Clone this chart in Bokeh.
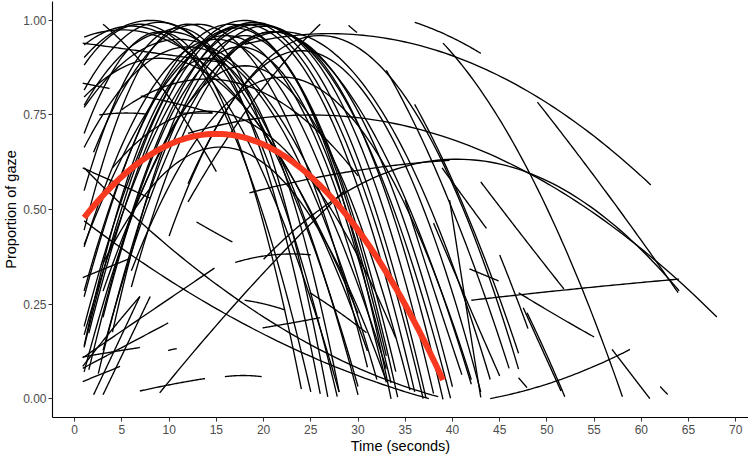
import numpy as np
from bokeh.plotting import figure
from bokeh.models import FixedTicker, PrintfTickFormatter, Range1d
from bokeh.embed import file_html
from bokeh.resources import INLINE

# ---- data: individual quadratic trajectories, peak form (x_peak, y_peak, curvature, x_start, x_end)
arc_xp = [18, 19, 18, 17, 20, 19.5, 21, 18, 22, 17.5, 16, 16.5, 14, 15, 18, 19, 12, 11,
          8, 9, 6, 10, 11, 5, 7, 12, 9, 13, 9,
          15.4, 14, 21, 24, 26, 22, 14,
          27, 25, 40.5]
arc_yp = [1.00, 0.995, 0.99, 0.98, 0.985, 0.99, 0.97, 0.96, 0.97, 0.93, 0.96, 0.99, 0.90, 0.95, 0.88, 0.99, 0.99, 0.98,
          1.00, 0.995, 0.985, 0.97, 0.95, 0.975, 0.99, 0.93, 0.90, 0.99, 0.97,
          0.665, 0.76, 0.97, 0.92, 0.96, 0.85, 0.845,
          0.965, 0.75, 0.633]
arc_k = [0.0028, 0.0030, 0.0030, 0.0033, 0.0030, 0.0024, 0.0026, 0.0040, 0.0019, 0.0034, 0.0030, 0.0030, 0.0045, 0.0028, 0.0028, 0.0018, 0.0045, 0.0043,
         0.0020, 0.0028, 0.0020, 0.0024, 0.0018, 0.0012, 0.0030, 0.0022, 0.0016, 0.0028, 0.0042,
         0.0020, 0.0015, 0.0030, 0.0025, 0.0020, 0.0020, 0.0010,
         0.000346, 0.000289, 0.00063]
arc_x0 = [1, 1.5, 1.5, 1, 2.5, 1, 3, 4, 3, 3, 1, 1, 1, 1, 1, 1, 1, 1,
          1, 1, 1, 1, 1, 1, 1, 1, 1, 2, 1,
          3, 4, 6, 10, 12, 6, 5,
          18, 12, 20]
arc_x1 = [36.9, 37.2, 36, 34.2, 38, 39.8, 40, 33.5, 44, 33, 33.5, 34, 28, 33, 35.5, 42, 26.8, 26,
          30, 27.8, 28, 30, 33, 30, 25, 32, 31, 31, 24,
          33, 34, 39, 43, 47, 42, 30,
          61, 68, 64]

# ---- data: trajectories given by start, middle and end points
seg_x0 = [49, 39, 36, 42, 44, 43, 47, 41.8, 45, 47.9, 47.5, 56.9, 62, 47,
          33, 36, 38.9, 35, 38, 39.7,
          1, 1, 9, 0.85, 0.85, 0.85, 0.85, 0.85, 2, 3, 0.85, 6.9, 15.9, 9.9,
          12.9, 17, 18, 19.9, 24.9, 0.85, 0.85, 2.6, 7, 11, 29, 12, 3, 0.85, 18.5]
seg_x1 = [63.9, 58, 43, 64, 58.8, 51.8, 55, 44.9, 48, 51.9, 51.5, 60.9, 62.8, 47.9,
          46, 47, 43.6, 41, 45, 43,
          37.5, 38.5, 28.6, 14.8, 4.8, 6.9, 9.9, 6.9, 6.9, 8, 5.8, 13.8, 19.8, 10.8,
          16.7, 25, 22.2, 26, 30.9, 15.4, 3.7, 7.7, 14.6, 14.6, 29.9, 26, 15, 8, 39.7]
seg_y0 = [0.784, 0.94, 0.995, 0.26, 0.0, 0.573, 0.28, 0.343, 0.38, 0.227, 0.24, 0.13, 0.032, 0.055,
          0.868, 0.778, 0.61, 0.525, 0.464, 0.525,
          0.47, 0.61, 0.015, 0.108, 0.045, 0.11, 0.08, 0.085, 0.01, 0.01, 0.32, 0.02, 0.058, 0.127,
          0.467, 0.36, 0.26, 0.187, 0.28, 0.94, 0.834, 0.75, 0.80, 0.755, 0.987, 0.52, 0.99, 0.61, 0.544]
seg_ym = [0.54, 0.58, 0.96, 0.29, 0.05, 0.43, 0.22, 0.327, 0.285, 0.12, 0.13, 0.065, 0.021, 0.042,
          0.53, 0.49, 0.53, 0.29, 0.26, 0.26,
          0.18, 0.22, 0.30, 0.227, 0.065, 0.123, 0.14, 0.18, 0.14, 0.14, 0.345, 0.038, 0.061, 0.13,
          0.44, 0.38, 0.25, 0.20, 0.23, 0.915, 0.827, 0.755, 0.78, 0.755, 0.977, 0.79, 0.83, 0.57, 0.60]
seg_y1 = [0.28, 0.005, 0.913, 0.316, 0.13, 0.29, 0.163, 0.311, 0.185, 0.005, 0.02, 0.0, 0.011, 0.029,
          0.08, 0.12, 0.45, 0.063, 0.06, 0.003,
          0.0, 0.005, 0.55, 0.345, 0.085, 0.135, 0.2, 0.27, 0.27, 0.27, 0.37, 0.053, 0.058, 0.132,
          0.414, 0.38, 0.235, 0.214, 0.174, 0.89, 0.82, 0.752, 0.755, 0.755, 0.968, 0.99, 0.6, 0.53, 0.63]

# ---- data: average trajectory (peak form)
mean_xp, mean_yp, mean_k, mean_x0, mean_x1 = 15.0, 0.70, 0.00113, 1.0, 39.0

x_ticks = list(range(0, 75, 5))
y_ticks = [0.0, 0.25, 0.5, 0.75, 1.0]

xs, ys = [], []
for xp, yp, k, a, b in zip(arc_xp, arc_yp, arc_k, arc_x0, arc_x1):
    x = np.linspace(a, b, 80)
    y = yp - k * (x - xp) ** 2
    m = y >= -0.003
    xs.append(x[m].tolist()); ys.append(y[m].tolist())
for a, b, y0, ym, y1 in zip(seg_x0, seg_x1, seg_y0, seg_ym, seg_y1):
    c = np.polyfit([a, (a + b) / 2, b], [y0, ym, y1], 2)
    x = np.linspace(a, b, 60)
    xs.append(x.tolist()); ys.append(np.polyval(c, x).tolist())

p = figure(frame_width=696, frame_height=416, output_backend="svg", toolbar_location=None,
           x_range=Range1d(-2.35, 71.35), y_range=Range1d(-0.05, 1.05),
           min_border_top=1, min_border_right=0, min_border_left=40, min_border_bottom=0)
p.multi_line(xs, ys, line_color="black", line_width=1.35)

mx = np.linspace(mean_x0, mean_x1, 100)
my = mean_yp - mean_k * (mx - mean_xp) ** 2
p.line(mx, my, line_color="#f8391f", line_width=6)

p.outline_line_color = None
p.grid.visible = False
p.background_fill_color = "white"
p.border_fill_color = "white"

for ax in (p.xaxis[0], p.yaxis[0]):
    ax.axis_line_color = "black"
    ax.axis_line_width = 1.1
    ax.major_tick_line_color = "#333333"
    ax.major_tick_out = 4
    ax.major_tick_in = 0
    ax.minor_tick_line_color = None
    ax.major_label_text_color = "#4d4d4d"
    ax.major_label_text_font = "Liberation Sans"
    ax.major_label_text_font_size = "12px"
    ax.axis_label_text_font = "Liberation Sans"
    ax.axis_label_text_font_size = "14.5px"
    ax.axis_label_text_font_style = "normal"
    ax.axis_label_text_color = "black"

p.xaxis.ticker = FixedTicker(ticks=x_ticks)
p.yaxis.ticker = FixedTicker(ticks=y_ticks)
p.yaxis.formatter = PrintfTickFormatter(format="%.2f")
p.xaxis.axis_label = "Time (seconds)"
p.yaxis.axis_label = "Proportion of gaze"
p.xaxis.axis_label_standoff = 1
p.yaxis.axis_label_standoff = 1
p.xaxis.major_label_standoff = 3
p.yaxis.major_label_standoff = 2

open("out.html", "w").write(file_html(p, INLINE))
